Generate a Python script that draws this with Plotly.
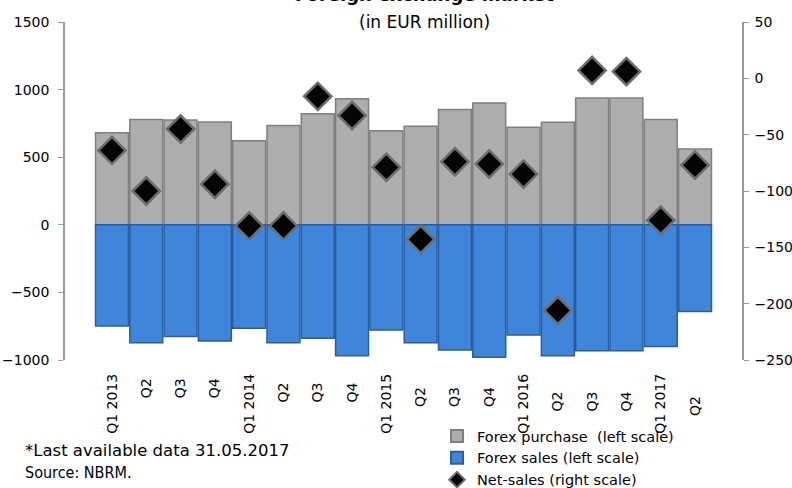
import plotly.graph_objects as go

categories = ["Q1 2013", "Q2 ", "Q3 ", "Q4 ", "Q1 2014", "Q2  ", "Q3  ", "Q4  ",
              "Q1 2015", "Q2   ", "Q3   ", "Q4   ", "Q1 2016", "Q2    ", "Q3    ", "Q4    ",
              "Q1 2017", "Q2     "]
purchase = [680, 778, 775, 760, 622, 735, 822, 933, 696, 728, 852, 901, 721, 758, 938, 938, 778, 561]
sales = [-748, -872, -827, -859, -765, -872, -840, -968, -778, -872, -926, -980, -815, -968, -931, -931, -901, -642]
net_sales = [-64, -100, -45, -94, -131, -131, -16, -33, -79, -143, -74, -76, -85, -206, 7, 6, -126, -77]

FONT = "DejaVu Sans, sans-serif"
FONT_C = "DejaVu Sans Condensed, DejaVu Sans, sans-serif"

fig = go.Figure()
fig.add_trace(go.Bar(
    x=categories, y=purchase, name="Forex purchase  (left scale)",
    marker=dict(color="#ADADAD", line=dict(color="#7F7F7F", width=1.5)),
))
fig.add_trace(go.Bar(
    x=categories, y=sales, name="Forex sales (left scale)",
    marker=dict(color="#3F85D9", line=dict(color="#2A5D9E", width=1.5)),
))
fig.add_trace(go.Scatter(
    x=categories, y=net_sales, name="Net-sales (right scale)", yaxis="y2",
    mode="markers",
    marker=dict(symbol="diamond", size=21, color="#050505", line=dict(color="#6E6E6E", width=2.5)),
))

fig.update_layout(
    width=792, height=488,
    margin=dict(l=65, r=50, t=22, b=128, autoexpand=False),
    paper_bgcolor="white", plot_bgcolor="white",
    barmode="relative", bargap=0.04,
    font=dict(family=FONT, size=14, color="black"),
    showlegend=True,
    legend=dict(xref="container", yref="container", x=437 / 792, y=1 - 420 / 488,
                xanchor="left", yanchor="top",
                bgcolor="rgba(0,0,0,0)", font=dict(family=FONT, size=14.5),
                itemsizing="constant", tracegroupgap=0),
    xaxis=dict(type="category", tickangle=-90, showline=False, ticks="",
               tickfont=dict(size=14), showgrid=False, automargin=False,
               ticklabelstandoff=10),
    yaxis=dict(range=[-1000, 1500], dtick=500, showgrid=False, zeroline=False,
               showline=True, linecolor="#9A9A9A", linewidth=1.5, automargin=False,
               ticks="outside", ticklen=5, tickcolor="#9A9A9A", tickfont=dict(size=14),
               ticklabelstandoff=6),
    yaxis2=dict(range=[-250, 50], dtick=50, overlaying="y", side="right",
                showgrid=False, zeroline=False, showline=True, linecolor="#9A9A9A",
                linewidth=1.5, ticks="outside", ticklen=5, tickcolor="#9A9A9A",
                tickfont=dict(size=14), automargin=False, ticklabelstandoff=3),
    annotations=[
        dict(text="<b>Foreign exchange market</b>", xref="paper", yref="paper",
             x=(424 - 65) / 677, y=(360 + 5) / 338, xanchor="center", yanchor="middle",
             showarrow=False, font=dict(size=18)),
        dict(text="(in EUR million)", xref="paper", yref="paper",
             x=(424 - 65) / 677, y=(360 - 22.5) / 338, xanchor="center", yanchor="middle",
             showarrow=False, font=dict(size=17)),
        dict(text="*Last available data 31.05.2017", xref="paper", yref="paper",
             x=(23 - 65) / 677, y=(360 - 450.5) / 338, xanchor="left", yanchor="middle",
             showarrow=False, font=dict(size=16.5)),
        dict(text="Source: NBRM.", xref="paper", yref="paper",
             x=(23 - 65) / 677, y=(360 - 472) / 338, xanchor="left", yanchor="middle",
             showarrow=False, font=dict(family=FONT_C, size=16)),
    ],
)

fig.write_html("out.html")
